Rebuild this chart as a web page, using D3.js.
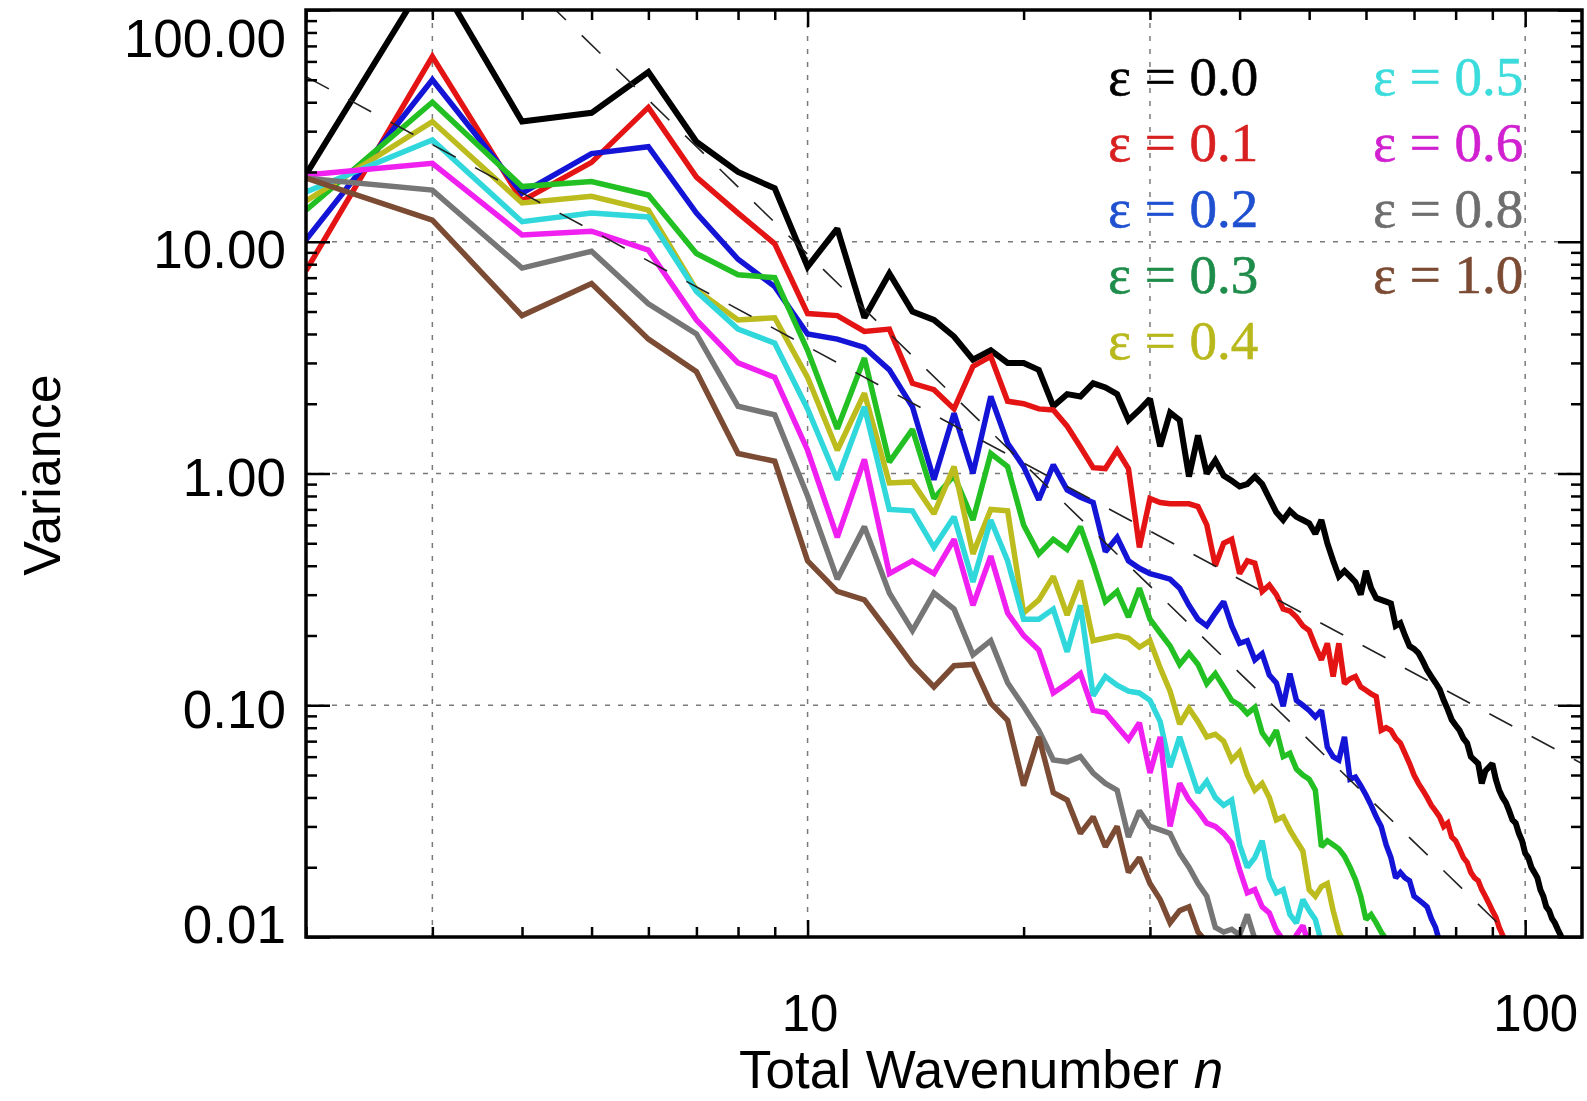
<!DOCTYPE html>
<html>
<head>
<meta charset="utf-8">
<script src="https://cdn.jsdelivr.net/npm/d3@7"></script>
<style>
  body { margin: 0; background: #fff; }
  svg { display: block; }
</style>
</head>
<body>
<div id="chart"></div>
<script>
// wavenumber of the first value in every series
var nFirst = 2;

// legend labels and colours, one per series
var epsLabels = ["0.0", "0.1", "0.2", "0.3", "0.4", "0.5", "0.6", "0.8", "1.0"];
var lineColors = ["#000000", "#e41414", "#1414d6", "#22c022", "#bcbc1e", "#30d8dc", "#f020f0", "#767676", "#7b4b34"];
var textColors = ["#000000", "#d82020", "#1f50d0", "#1e8c4a", "#b8b81c", "#3cdcdc", "#d020d0", "#6e6e6e", "#7b4b34"];

// variance per wavenumber n = 2, 3, 4, ...
var eps00 = [19.5, 150, 33, 36, 54, 27, 20, 17, 7.8, 11.4, 4.7, 7.3, 5.0, 4.6, 3.9, 3.1, 3.4, 3.0, 3.0,
  2.8, 1.95, 2.2, 2.15, 2.45, 2.35, 2.2, 1.7, 1.88, 2.1, 1.31, 1.83, 1.7, 0.97, 1.46, 1.0, 1.14, 0.98, 0.93,
  0.88, 0.9, 0.97, 0.9, 0.78, 0.68, 0.63, 0.69, 0.65, 0.63, 0.61, 0.55, 0.63, 0.5, 0.42, 0.36, 0.38, 0.36,
  0.34, 0.30, 0.38, 0.32, 0.29, 0.285, 0.28, 0.275, 0.22, 0.226, 0.2, 0.18, 0.175, 0.168, 0.155, 0.142,
  0.133, 0.125, 0.117, 0.105, 0.096, 0.0865, 0.082, 0.078, 0.072, 0.0686, 0.06, 0.058, 0.056, 0.046, 0.052,
  0.054, 0.056, 0.048, 0.043, 0.04, 0.038, 0.035, 0.032, 0.031, 0.028, 0.026, 0.023, 0.022, 0.020, 0.019,
  0.018, 0.016, 0.015, 0.0135, 0.013, 0.012, 0.0115, 0.0108, 0.0102, 0.0095];
var eps01 = [7.5, 63, 15, 22, 38, 19, 13.3, 9.8, 4.9, 4.8, 4.1, 4.2, 2.45, 2.3, 1.9, 2.9, 3.2, 2.05, 2.0,
  1.9, 1.88, 1.6, 1.3, 1.06, 1.05, 1.26, 1.05, 0.48, 0.78, 0.75, 0.74, 0.74, 0.74, 0.72, 0.6, 0.4, 0.5, 0.52,
  0.37, 0.42, 0.41, 0.31, 0.33, 0.3, 0.26, 0.255, 0.24, 0.22, 0.21, 0.18, 0.157, 0.185, 0.133, 0.185, 0.124,
  0.13, 0.133, 0.12, 0.116, 0.112, 0.109, 0.078, 0.08, 0.078, 0.072, 0.0686, 0.062, 0.056, 0.05, 0.046,
  0.043, 0.040, 0.037, 0.035, 0.033, 0.030, 0.031, 0.027, 0.026, 0.024, 0.022, 0.021, 0.019, 0.018, 0.0175,
  0.016, 0.015, 0.014, 0.013, 0.0122, 0.011, 0.0102, 0.0094];
var eps02 = [10.2, 50, 16.2, 24, 25.7, 13.3, 8.4, 6.4, 4.0, 3.8, 3.5, 2.8, 1.94, 0.94, 1.82, 1.0, 2.15, 1.35,
  1.07, 0.77, 1.09, 0.85, 0.79, 0.75, 0.46, 0.53, 0.42, 0.39, 0.37, 0.36, 0.35, 0.32, 0.27, 0.235, 0.22,
  0.25, 0.28, 0.22, 0.185, 0.19, 0.157, 0.167, 0.135, 0.125, 0.099, 0.137, 0.105, 0.1, 0.095, 0.089, 0.095,
  0.066, 0.06, 0.058, 0.073, 0.048, 0.049, 0.045, 0.041, 0.037, 0.033, 0.030, 0.025, 0.022, 0.018, 0.019,
  0.018, 0.0175, 0.015, 0.0145, 0.014, 0.0135, 0.012, 0.011, 0.0095];
var eps03 = [13.7, 40, 17.3, 18.2, 15.9, 8.9, 7.2, 7.0, 3.4, 1.56, 3.15, 1.12, 1.55, 0.78, 0.98, 0.63, 1.22,
  1.07, 0.6, 0.45, 0.52, 0.47, 0.59, 0.41, 0.28, 0.31, 0.24, 0.32, 0.235, 0.205, 0.18, 0.15, 0.168, 0.15,
  0.124, 0.137, 0.12, 0.105, 0.1, 0.092, 0.098, 0.076, 0.069, 0.078, 0.06, 0.062, 0.053, 0.05, 0.048, 0.043,
  0.0245, 0.026, 0.025, 0.024, 0.0223, 0.02, 0.0177, 0.015, 0.0119, 0.0125, 0.0115, 0.0105, 0.0098];
var eps04 = [15, 33, 14.7, 15.7, 13.7, 6.2, 4.6, 4.7, 2.6, 1.26, 2.22, 0.91, 0.92, 0.67, 1.07, 0.45, 0.7,
  0.69, 0.25, 0.285, 0.36, 0.245, 0.345, 0.19, 0.195, 0.2, 0.195, 0.178, 0.19, 0.145, 0.115, 0.083, 0.097,
  0.085, 0.073, 0.075, 0.07, 0.058, 0.063, 0.05, 0.043, 0.046, 0.04, 0.032, 0.033, 0.029, 0.026, 0.0235,
  0.016, 0.015, 0.0165, 0.017, 0.013, 0.0105, 0.0095];
var eps05 = [16.4, 27.5, 12.2, 13.3, 12.8, 6.1, 4.2, 3.65, 1.9, 0.94, 1.94, 0.7, 0.69, 0.48, 0.65, 0.34,
  0.63, 0.42, 0.235, 0.235, 0.26, 0.17, 0.27, 0.11, 0.133, 0.122, 0.115, 0.113, 0.105, 0.085, 0.054, 0.073,
  0.055, 0.042, 0.047, 0.04, 0.037, 0.039, 0.025, 0.02, 0.022, 0.026, 0.018, 0.0155, 0.016, 0.0125, 0.0115,
  0.0145, 0.013, 0.0119, 0.0095];
var eps06 = [19.4, 21.8, 10.7, 11.1, 9.2, 4.6, 3.0, 2.6, 1.26, 0.53, 1.15, 0.37, 0.42, 0.37, 0.52, 0.27,
  0.44, 0.25, 0.2, 0.173, 0.113, 0.124, 0.137, 0.095, 0.093, 0.081, 0.071, 0.084, 0.051, 0.073, 0.03,
  0.046, 0.039, 0.035, 0.031, 0.03, 0.028, 0.0254, 0.0195, 0.0155, 0.016, 0.0135, 0.0127, 0.0107, 0.0097,
  0.009, 0.0102, 0.0112, 0.0092];
var eps08 = [18.8, 16.7, 7.7, 9.1, 5.4, 4.0, 1.95, 1.79, 0.8, 0.35, 0.59, 0.305, 0.21, 0.305, 0.26, 0.165,
  0.19, 0.125, 0.099, 0.078, 0.058, 0.057, 0.06, 0.051, 0.046, 0.043, 0.027, 0.035, 0.03, 0.029, 0.028,
  0.023, 0.02, 0.017, 0.015, 0.011, 0.0105, 0.0108, 0.0102, 0.0125, 0.0098];
var eps10 = [18.8, 12.4, 4.8, 6.6, 3.8, 2.75, 1.22, 1.13, 0.42, 0.31, 0.285, 0.205, 0.15, 0.12, 0.148, 0.15,
  0.102, 0.086, 0.045, 0.073, 0.042, 0.039, 0.028, 0.033, 0.0245, 0.03, 0.019, 0.022, 0.017, 0.0145, 0.0115,
  0.013, 0.0135, 0.0105, 0.0095];

var allSeries = [eps00, eps01, eps02, eps03, eps04, eps05, eps06, eps08, eps10];

// dashed reference slopes (n^-3 and n^-5/3), end points
var slopeMinus3 = [{n: 2, v: 1106}, {n: 120, v: 0.0051}];
var slopeMinus53 = [{n: 2, v: 51.6}, {n: 120, v: 0.056}];

// axis ticks
var xMajor = [10, 100];
var yMajor = [0.01, 0.1, 1, 10, 100];
var xGrid = [3, 10, 30, 100];
var yGrid = [0.1, 1, 10];

var width = 1587, height = 1101;
var pLeft = 306, pRight = 1582, pTop = 10, pBottom = 937;

var xMinor = [];
[1, 10].forEach(function(d) { for (var k = 2; k <= 9; k++) { if (d * k >= 2) xMinor.push(d * k); } });
var yMinor = [];
[0.01, 0.1, 1, 10].forEach(function(d) { for (var k = 2; k <= 9; k++) yMinor.push(d * k); });

var x = d3.scaleLog().domain([2, 120]).range([pLeft, pRight]);
var y = d3.scaleLog().domain([0.01, 100]).range([pBottom, pTop]);

var svg = d3.select("#chart").append("svg").attr("width", width).attr("height", height);

svg.append("defs").append("clipPath").attr("id", "plotclip")
  .append("rect").attr("x", pLeft).attr("y", pTop).attr("width", pRight - pLeft).attr("height", pBottom - pTop);

//grid
var grid = svg.append("g").attr("stroke", "#7a7a7a").attr("stroke-width", 1.5).attr("stroke-dasharray", "5,8");
grid.selectAll("line.gx").data(xGrid).enter().append("line")
  .attr("x1", function(d) { return x(d); }).attr("x2", function(d) { return x(d); })
  .attr("y1", pTop).attr("y2", pBottom);
grid.selectAll("line.gy").data(yGrid).enter().append("line")
  .attr("y1", function(d) { return y(d); }).attr("y2", function(d) { return y(d); })
  .attr("x1", pLeft).attr("x2", pRight);

//data lines
var line = d3.line()
  .x(function(d, i) { return x(nFirst + i); })
  .y(function(d) { return y(d); });

var plot = svg.append("g").attr("clip-path", "url(#plotclip)");
allSeries.forEach(function(s, i) {
  plot.append("path").attr("d", line(s)).attr("fill", "none")
    .attr("stroke", lineColors[i]).attr("stroke-width", i == 0 ? 6 : 5.5)
    .attr("stroke-linejoin", "miter").attr("stroke-miterlimit", 2);
});

//reference slopes on top
var refLine = d3.line().x(function(d) { return x(d.n); }).y(function(d) { return y(d.v); });
[slopeMinus3, slopeMinus53].forEach(function(s) {
  plot.append("path").attr("d", refLine(s)).attr("fill", "none")
    .attr("stroke", "#222").attr("stroke-width", 1.6).attr("stroke-dasharray", "26,22");
});

//axes, ticks pointing inward
var font = "'Liberation Sans', Arial, Helvetica, sans-serif";

var addAxis = function(axisFn, scale, values, size, transform) {
  var g = svg.append("g").attr("transform", transform)
    .call(axisFn(scale).tickValues(values).tickSize(-size).tickFormat(""));
  g.select(".domain").remove();
  g.selectAll(".tick line").attr("stroke", "#000").attr("stroke-width", 2.5);
  return g;
};

addAxis(d3.axisBottom, x, xMinor, 10, "translate(0," + pBottom + ")");
addAxis(d3.axisTop, x, xMinor, 10, "translate(0," + pTop + ")");
addAxis(d3.axisTop, x, xMajor, 17, "translate(0," + pTop + ")");
addAxis(d3.axisLeft, y, yMinor, 11, "translate(" + pLeft + ",0)");
addAxis(d3.axisRight, y, yMinor, 11, "translate(" + pRight + ",0)");
addAxis(d3.axisRight, y, yMajor, 24, "translate(" + pRight + ",0)");

var xAxis = svg.append("g").attr("transform", "translate(0," + pBottom + ")")
  .call(d3.axisBottom(x).tickValues(xMajor).tickSize(-17).tickFormat(d3.format("d")));
xAxis.select(".domain").remove();
xAxis.selectAll(".tick line").attr("stroke", "#000").attr("stroke-width", 2.5);
xAxis.selectAll(".tick text").attr("y", 94).attr("dy", 0)
  .attr("dx", function(d) { return d == 100 ? 10 : 2; })
  .attr("fill", "#000").style("font-family", font).style("font-size", "51px");

var yLabelShift = {100: 46, 10: 26, 1: 22, 0.1: 22, 0.01: 5};
var yAxis = svg.append("g").attr("transform", "translate(" + pLeft + ",0)")
  .call(d3.axisLeft(y).tickValues(yMajor).tickSize(-24).tickFormat(d3.format(".2f")));
yAxis.select(".domain").remove();
yAxis.selectAll(".tick line").attr("stroke", "#000").attr("stroke-width", 2.5);
yAxis.selectAll(".tick text").attr("x", -20).attr("dy", 0)
  .attr("y", function(d) { return yLabelShift[d]; })
  .attr("fill", "#000").style("font-family", font).style("font-size", "53px");

//frame
svg.append("rect").attr("x", pLeft).attr("y", pTop).attr("width", pRight - pLeft).attr("height", pBottom - pTop)
  .attr("fill", "none").attr("stroke", "#000").attr("stroke-width", 3.5);

//axis titles
var title = svg.append("text").attr("x", 739).attr("y", 1088)
  .style("font-family", font).style("font-size", "53px").attr("fill", "#000");
title.append("tspan").text("Total Wavenumber ");
title.append("tspan").style("font-style", "italic").text("n");

svg.append("text").attr("transform", "translate(60,475) rotate(-90)").attr("text-anchor", "middle")
  .style("font-family", font).style("font-size", "52px").attr("fill", "#000").text("Variance");

//legend in two columns
var legendX = [1108, 1373];
var legendY = [95, 161, 227, 293, 359];
var legend = svg.append("g").style("font-family", "'Liberation Serif', 'Times New Roman', serif").style("font-size", "55px");
epsLabels.forEach(function(lab, i) {
  var col = i < 5 ? 0 : 1;
  var row = i < 5 ? i : i - 5;
  legend.append("text").attr("x", legendX[col]).attr("y", legendY[row])
    .attr("fill", textColors[i]).attr("stroke", textColors[i]).attr("stroke-width", 0.6)
    .text("\u03b5 = " + lab);
});
</script>
</body>
</html>
